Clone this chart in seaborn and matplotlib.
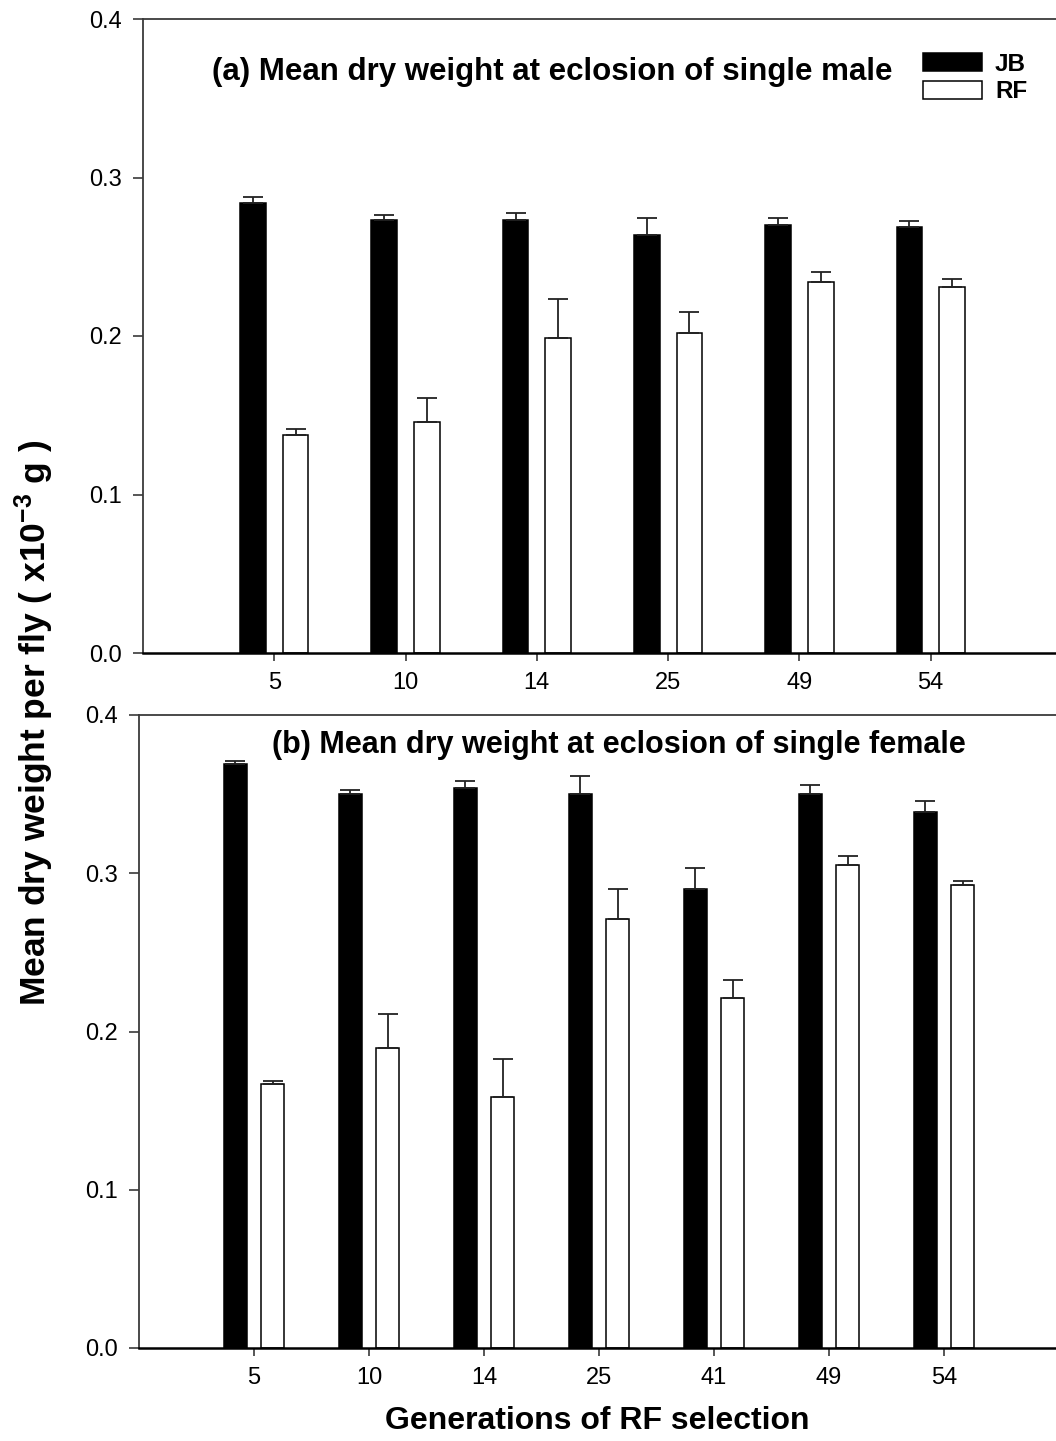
import numpy as np
import pandas as pd
import matplotlib
matplotlib.use("Agg")
import matplotlib.pyplot as plt
import seaborn as sns

# ---------------- data ----------------
gens_a = ["5", "10", "14", "25", "49", "54"]
jb_a = [0.284, 0.273, 0.273, 0.2635, 0.270, 0.269]
jb_a_err = [0.0036, 0.0035, 0.0046, 0.011, 0.0045, 0.0038]
rf_a = [0.1375, 0.1457, 0.1985, 0.202, 0.234, 0.231]
rf_a_err = [0.0038, 0.0153, 0.025, 0.013, 0.0062, 0.005]

gens_b = ["5", "10", "14", "25", "41", "49", "54"]
jb_b = [0.369, 0.3503, 0.354, 0.3499, 0.290, 0.350, 0.3387]
jb_b_err = [0.002, 0.0023, 0.004, 0.0116, 0.0133, 0.0058, 0.007]
rf_b = [0.167, 0.1898, 0.1586, 0.2711, 0.2212, 0.305, 0.2926]
rf_b_err = [0.002, 0.0214, 0.024, 0.0188, 0.0113, 0.006, 0.0024]

groups = ["JB", "RF"]
title_a = "(a) Mean dry weight at eclosion of single male"
title_b = "(b) Mean dry weight at eclosion of single female"
ylabel = r"Mean dry weight per fly ( x10$^{-3}$ g )"
xlabel = "Generations of RF selection"
yticks = [0.0, 0.1, 0.2, 0.3, 0.4]


def long_df(gens, jb, rf):
    return pd.DataFrame({
        "gen": gens + gens,
        "group": ["JB"] * len(gens) + ["RF"] * len(gens),
        "w": jb + rf,
    })


sns.set_theme(style="white")
plt.rcParams["font.family"] = ["Liberation Sans", "DejaVu Sans"]
plt.rcParams["mathtext.fontset"] = "custom"
plt.rcParams["mathtext.rm"] = "Liberation Sans:bold"
plt.rcParams["mathtext.bf"] = "Liberation Sans:bold"
plt.rcParams["mathtext.it"] = "Liberation Sans:bold"

W, H = 1056, 1441
fig = plt.figure(figsize=(W / 100, H / 100), dpi=100)
fig.patch.set_facecolor("white")

ax_a = fig.add_axes([143 / W, 1 - 653 / H, 919 / W, 634 / H])
ax_b = fig.add_axes([139 / W, 1 - 1348 / H, 920 / W, 633 / H])

palette = {"JB": "black", "RF": "white"}
spine_col = "#3a3a3a"
tick_fs = 17


def draw(ax, gens, jb, rf, jb_err, rf_err, legend):
    df = long_df(gens, jb, rf)
    sns.barplot(data=df, x="gen", y="w", hue="group", order=gens,
                hue_order=groups, palette=palette, edgecolor="black",
                linewidth=1.1, width=0.65, gap=0.4, errorbar=None,
                legend=legend, ax=ax, saturation=1)
    for cont, errs in zip(ax.containers, [jb_err, rf_err]):
        xs = [p.get_x() + p.get_width() / 2 for p in cont]
        ys = [p.get_height() for p in cont]
        ax.errorbar(xs, ys, yerr=[np.zeros(len(errs)), errs], fmt="none",
                    ecolor="#222222", elinewidth=1.3, capsize=7,
                    capthick=1.3, zorder=1)
    ax.set_xlim(-1, len(gens))
    ax.set_ylim(0, 0.4)
    ax.set_yticks(yticks)
    ax.set_yticklabels([f"{t:.1f}" for t in yticks])
    ax.set_xlabel("")
    ax.set_ylabel("")
    for s in ["left", "top", "bottom"]:
        ax.spines[s].set_visible(True)
        ax.spines[s].set_color(spine_col)
        ax.spines[s].set_linewidth(1.3)
    ax.spines["bottom"].set_color("black")
    ax.spines["bottom"].set_linewidth(1.8)
    ax.spines["right"].set_visible(False)
    ax.tick_params(axis="y", direction="out", length=7, width=1.2,
                   color=spine_col, labelcolor="black", labelsize=tick_fs,
                   pad=8, left=True)
    ax.tick_params(axis="x", direction="out", length=6, width=1.2,
                   color=spine_col, labelcolor="black", labelsize=tick_fs,
                   pad=8, bottom=True)
    ax.set_facecolor("white")


draw(ax_a, gens_a, jb_a, rf_a, jb_a_err, rf_a_err, True)
draw(ax_b, gens_b, jb_b, rf_b, jb_b_err, rf_b_err, False)

handles, labels = ax_a.get_legend_handles_labels()
leg = ax_a.legend(handles, labels, loc="upper left",
                  bbox_to_anchor=(0.849, 0.947), frameon=False,
                  borderaxespad=0, borderpad=0,
                  prop={"weight": "bold", "size": 17.5}, handlelength=2.4,
                  handleheight=0.78, handletextpad=0.55, labelspacing=0.2)
for t in leg.get_texts():
    t.set_color("black")

ax_a.text(0.445, 0.916, title_a, transform=ax_a.transAxes, ha="center",
          va="center", fontsize=22.5, fontweight="bold", color="black")
ax_b.text(0.522, 0.9526, title_b, transform=ax_b.transAxes, ha="center",
          va="center", fontsize=22, fontweight="bold", color="black")

fig.text(34 / W, 1 - 723 / H, ylabel, rotation=90, ha="center", va="center",
         fontsize=25.5, fontweight="bold", color="black")
fig.text(597 / W, 1 - 1421 / H, xlabel, ha="center", va="center",
         fontsize=23, fontweight="bold", color="black")

fig.savefig("out.png", dpi=100, facecolor="white")
